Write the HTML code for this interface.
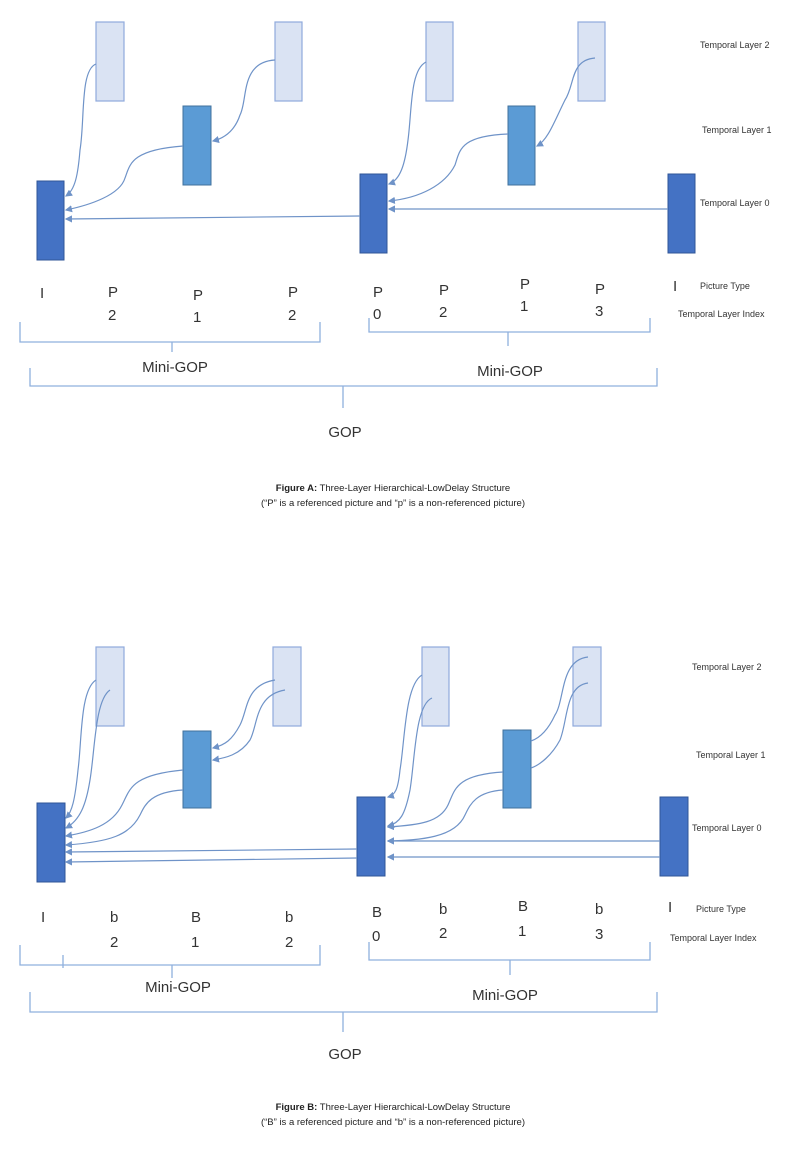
<!DOCTYPE html>
<html><head><meta charset="utf-8"><style>
html,body{margin:0;padding:0;background:#fff;}
svg{display:block;font-family:"Liberation Sans","DejaVu Sans",sans-serif;}
.d{fill:#4472c4;stroke:#2f5597;stroke-width:1}
.m{fill:#5b9bd5;stroke:#41719c;stroke-width:1}
.l{fill:#dae3f3;stroke:#8faadc;stroke-width:1.2}
.a{fill:none;stroke:#6f93c8;stroke-width:1.2}
.b{fill:none;stroke:#8fb0dd;stroke-width:1.3}
.t{font-size:15px;fill:#333}
.s{font-size:9px;fill:#333}
.g{font-size:15px;fill:#333}
.c{font-size:9.5px;fill:#222}
</style></head><body>
<svg width="790" height="1176" viewBox="0 0 790 1176">
<defs><marker id="ar" markerWidth="6" markerHeight="6" refX="5" refY="3" orient="auto"><path d="M0,0 L6,3 L0,6 z" fill="#6f93c8"/></marker></defs>

<!-- Figure A -->
<rect class="l" x="96" y="22" width="28" height="79"/>
<rect class="m" x="183" y="106" width="28" height="79"/>
<rect class="l" x="275" y="22" width="27" height="79"/>
<rect class="d" x="37" y="181" width="27" height="79"/>
<rect class="l" x="426" y="22" width="27" height="79"/>
<rect class="m" x="508" y="106" width="27" height="79"/>
<rect class="l" x="578" y="22" width="27" height="79"/>
<rect class="d" x="360" y="174" width="27" height="79"/>
<rect class="d" x="668" y="174" width="27" height="79"/>

<path class="a" marker-end="url(#ar)" d="M96,64 C80,70 85,120 80,150 C78,175 75,190 66,196"/>
<path class="a" marker-end="url(#ar)" d="M183,146 C130,150 130,165 125,178 C120,195 90,205 66,210"/>
<path class="a" marker-end="url(#ar)" d="M275,60 C240,62 248,100 240,115 C235,130 225,138 213,141"/>
<path class="a" marker-end="url(#ar)" d="M360,216 L66,219"/>
<path class="a" marker-end="url(#ar)" d="M426,62 C410,70 412,110 408,140 C405,165 400,180 389,184"/>
<path class="a" marker-end="url(#ar)" d="M508,134 C460,136 460,150 455,165 C445,185 420,198 389,201"/>
<path class="a" marker-end="url(#ar)" d="M595,58 C570,60 575,85 565,100 C555,120 548,140 537,146"/>
<path class="a" marker-end="url(#ar)" d="M668,209 L389,209"/>

<text class="t" x="40" y="298">I</text>
<text class="t" x="108" y="297">P</text><text class="t" x="108" y="320">2</text>
<text class="t" x="193" y="300">P</text><text class="t" x="193" y="322">1</text>
<text class="t" x="288" y="297">P</text><text class="t" x="288" y="320">2</text>
<text class="t" x="373" y="297">P</text><text class="t" x="373" y="319">0</text>
<text class="t" x="439" y="295">P</text><text class="t" x="439" y="317">2</text>
<text class="t" x="520" y="289">P</text><text class="t" x="520" y="311">1</text>
<text class="t" x="595" y="294">P</text><text class="t" x="595" y="316">3</text>
<text class="t" x="673" y="291">I</text>

<text class="s" x="700" y="48">Temporal Layer 2</text>
<text class="s" x="702" y="133">Temporal Layer 1</text>
<text class="s" x="700" y="206">Temporal Layer 0</text>
<text class="s" x="700" y="289">Picture Type</text>
<text class="s" x="678" y="317">Temporal Layer Index</text>

<path class="b" d="M20,322 L20,342 L320,342 L320,322 M172,342 L172,352"/>
<path class="b" d="M369,318 L369,332 L650,332 L650,318 M508,332 L508,346"/>
<path class="b" d="M30,368 L30,386 L657,386 L657,368 M343,386 L343,408"/>
<text class="g" x="175" y="372" text-anchor="middle">Mini-GOP</text>
<text class="g" x="510" y="376" text-anchor="middle">Mini-GOP</text>
<text class="g" x="345" y="437" text-anchor="middle">GOP</text>
<text class="c" x="393" y="491" text-anchor="middle"><tspan font-weight="bold">Figure A:</tspan> Three-Layer Hierarchical-LowDelay Structure</text>
<text class="c" x="393" y="506" text-anchor="middle">(“P” is a referenced picture and “p” is a non-referenced picture)</text>

<!-- Figure B -->
<rect class="l" x="96" y="647" width="28" height="79"/>
<rect class="m" x="183" y="731" width="28" height="77"/>
<rect class="l" x="273" y="647" width="28" height="79"/>
<rect class="d" x="37" y="803" width="28" height="79"/>
<rect class="l" x="422" y="647" width="27" height="79"/>
<rect class="m" x="503" y="730" width="28" height="78"/>
<rect class="l" x="573" y="647" width="28" height="79"/>
<rect class="d" x="357" y="797" width="28" height="79"/>
<rect class="d" x="660" y="797" width="28" height="79"/>

<path class="a" marker-end="url(#ar)" d="M96,680 C80,690 82,740 78,770 C75,800 72,812 66,818"/>
<path class="a" marker-end="url(#ar)" d="M110,690 C95,700 95,750 90,780 C86,805 80,820 66,828"/>
<path class="a" marker-end="url(#ar)" d="M183,770 C130,775 130,790 122,805 C112,825 90,832 66,836"/>
<path class="a" marker-end="url(#ar)" d="M183,790 C150,792 145,805 140,815 C130,835 110,842 66,845"/>
<path class="a" marker-end="url(#ar)" d="M275,680 C245,685 248,710 240,725 C232,740 225,745 213,748"/>
<path class="a" marker-end="url(#ar)" d="M285,690 C255,695 258,725 250,740 C240,755 225,758 213,760"/>
<path class="a" marker-end="url(#ar)" d="M357,849 L66,852"/>
<path class="a" marker-end="url(#ar)" d="M357,858 L66,862"/>
<path class="a" marker-end="url(#ar)" d="M422,675 C405,685 405,740 400,770 C398,790 395,795 388,797"/>
<path class="a" marker-end="url(#ar)" d="M432,698 C415,705 415,760 410,790 C405,815 400,823 388,826"/>
<path class="a" marker-end="url(#ar)" d="M503,772 C455,775 455,790 448,805 C440,822 420,825 388,827"/>
<path class="a" marker-end="url(#ar)" d="M503,790 C475,792 470,805 465,815 C455,838 420,840 388,841"/>
<path class="a" d="M588,657 C560,660 565,700 555,715 C548,730 540,738 531,741"/>
<path class="a" d="M588,683 C565,686 568,720 560,740 C552,755 540,765 531,768"/>
<path class="a" marker-end="url(#ar)" d="M660,841 L388,841"/>
<path class="a" marker-end="url(#ar)" d="M660,857 L388,857"/>

<text class="t" x="41" y="922">I</text>
<text class="t" x="110" y="922">b</text><text class="t" x="110" y="947">2</text>
<text class="t" x="191" y="922">B</text><text class="t" x="191" y="947">1</text>
<text class="t" x="285" y="922">b</text><text class="t" x="285" y="947">2</text>
<text class="t" x="372" y="917">B</text><text class="t" x="372" y="941">0</text>
<text class="t" x="439" y="914">b</text><text class="t" x="439" y="938">2</text>
<text class="t" x="518" y="911">B</text><text class="t" x="518" y="936">1</text>
<text class="t" x="595" y="914">b</text><text class="t" x="595" y="939">3</text>
<text class="t" x="668" y="912">I</text>

<text class="s" x="692" y="670">Temporal Layer 2</text>
<text class="s" x="696" y="758">Temporal Layer 1</text>
<text class="s" x="692" y="831">Temporal Layer 0</text>
<text class="s" x="696" y="912">Picture Type</text>
<text class="s" x="670" y="941">Temporal Layer Index</text>

<path class="b" d="M20,945 L20,965 L320,965 L320,945 M172,965 L172,978 M63,955 L63,968"/>
<path class="b" d="M369,942 L369,960 L650,960 L650,942 M510,960 L510,975"/>
<path class="b" d="M30,992 L30,1012 L657,1012 L657,992 M343,1012 L343,1032"/>
<text class="g" x="178" y="992" text-anchor="middle">Mini-GOP</text>
<text class="g" x="505" y="1000" text-anchor="middle">Mini-GOP</text>
<text class="g" x="345" y="1059" text-anchor="middle">GOP</text>
<text class="c" x="393" y="1110" text-anchor="middle"><tspan font-weight="bold">Figure B:</tspan> Three-Layer Hierarchical-LowDelay Structure</text>
<text class="c" x="393" y="1125" text-anchor="middle">(“B” is a referenced picture and “b” is a non-referenced picture)</text>
</svg>
</body></html>
